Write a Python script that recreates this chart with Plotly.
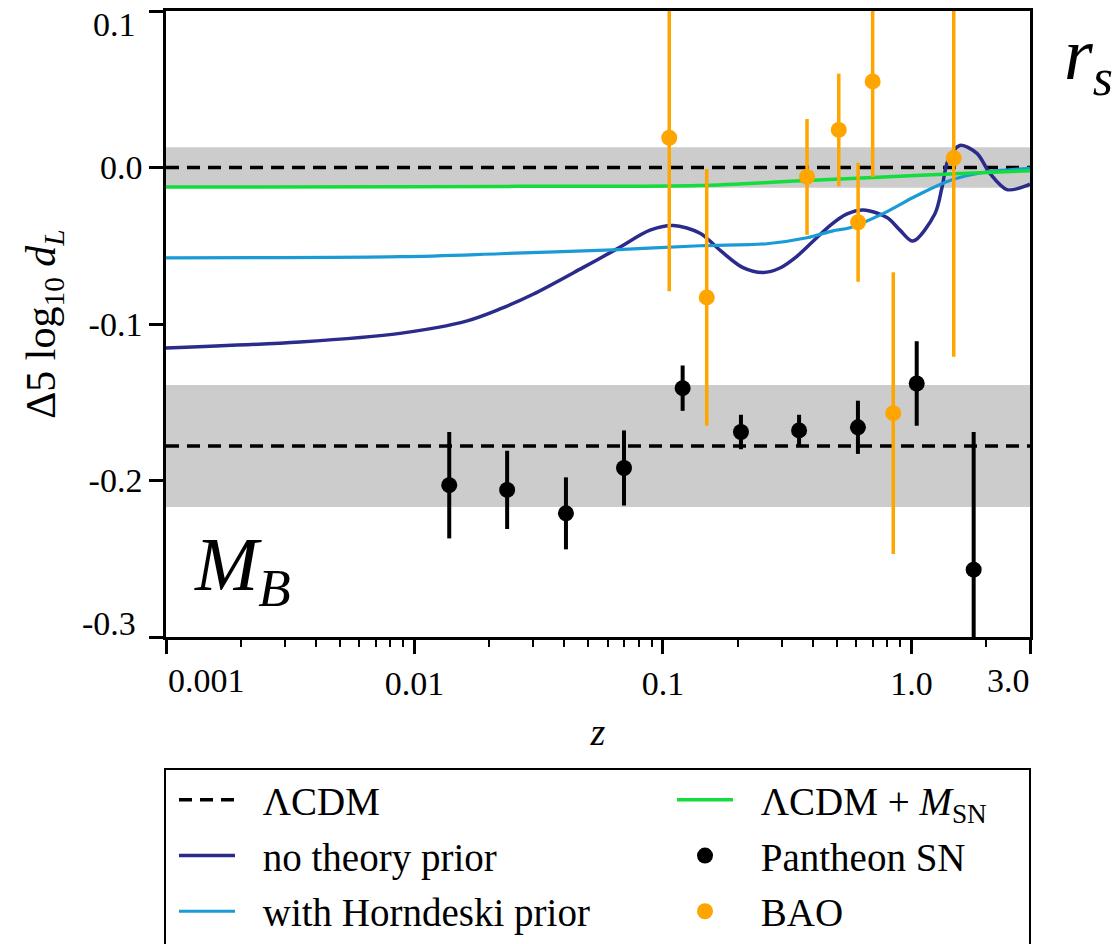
import plotly.graph_objects as go
import numpy as np

# ---------------- data ----------------
# no theory prior (navy)
nt_z = [0.001, 0.00346, 0.00874, 0.0163, 0.0221, 0.030, 0.0476, 0.0653, 0.0887, 0.110,
        0.141, 0.170, 0.210, 0.2532, 0.2957, 0.345, 0.4027, 0.47, 0.548, 0.64, 0.797, 0.899,
        1.014, 1.243, 1.327, 1.403, 1.567, 1.835, 2.07, 2.423, 2.916, 3.0]
nt_y = [-0.1154, -0.1115, -0.106, -0.098, -0.0904, -0.081, -0.064, -0.052, -0.040, -0.037,
        -0.042, -0.053, -0.064, -0.0671, -0.0642, -0.0569, -0.047, -0.0371, -0.0298, -0.0271,
        -0.032, -0.040, -0.047, -0.0295, -0.0128, 0.0045, 0.0141, 0.009, -0.0038, -0.0141,
        -0.0115, -0.0105]

# with Horndeski prior (light blue)
hp_z = [0.001, 0.00874, 0.0221, 0.0629, 0.141, 0.262, 0.38, 0.483, 0.5656, 0.768, 1.052,
        1.429, 1.94, 2.943, 3.0]
hp_y = [-0.0577, -0.057, -0.0551, -0.0526, -0.050, -0.0487, -0.0449, -0.0405, -0.0385,
        -0.0295, -0.0179, -0.0083, -0.0032, -0.0006, -0.0005]

# LCDM + M_SN (green)
gm_z = [0.001, 0.01, 0.03, 0.14, 0.38, 0.70, 1.5, 3.0]
gm_y = [-0.0125, -0.0123, -0.012, -0.0115, -0.0083, -0.0064, -0.004, -0.002]

# LCDM reference lines and bands
lcdm_z = [0.001, 3.0]
band_center = [0.0, -0.178]
band_half = [0.013, 0.039]

# Pantheon SN
sn_z = [0.0138, 0.0236, 0.0407, 0.0697, 0.120, 0.206, 0.353, 0.609, 1.05, 1.78]
sn_y = [-0.203, -0.206, -0.221, -0.192, -0.141, -0.169, -0.168, -0.166, -0.138, -0.257]
sn_e = [0.034, 0.025, 0.023, 0.024, 0.0145, 0.011, 0.010, 0.017, 0.027, 0.088]

# BAO
bao_z = [0.106, 0.15, 0.38, 0.51, 0.61, 0.698, 0.845, 1.48]
bao_y = [0.019, -0.083, -0.006, 0.024, -0.035, 0.055, -0.157, 0.006]
bao_e = [0.098, 0.082, 0.037, 0.036, 0.038, 0.061, 0.090, 0.127]

x_major = [0.001, 0.01, 0.1, 1.0, 3.0]
x_major_text = ["", "0.01", "0.1", "1.0", ""]
y_major = [0.1, 0.0, -0.1, -0.2, -0.3]
y_major_text = ["", "0.0", "-0.1", "-0.2", ""]

# ---------------- layout geometry ----------------
W, H = 1114, 944
L, R, T, B = 166, 1030, 11, 637
PW, PH = R - L, B - T


def px(xp):
    return (xp - L) / PW


def py(yp):
    return (B - yp) / PH


FONT = "Liberation Serif"
NAVY = "#2b2b8c"
LBLUE = "#1b9bd6"
GREEN = "#12dd3c"
ORANGE = "#ffa500"
GAP = "\u2002\u200a"

fig = go.Figure()

# bands
for c, h in zip(band_center, band_half):
    fig.add_shape(type="rect", xref="x domain", yref="y", x0=0, x1=1, y0=c - h, y1=c + h,
                  fillcolor="#cccccc", line_width=0, layer="below")

# LCDM dashed lines
for i, c in enumerate(band_center):
    fig.add_trace(go.Scatter(x=lcdm_z, y=[c, c], mode="lines",
                             line=dict(color="black", width=3.5, dash="13px,8px"),
                             name=GAP + "ΛCDM", showlegend=(i == 0), legend="legend",
                             legendgroup="a", hoverinfo="skip"))

fig.add_trace(go.Scatter(x=nt_z, y=nt_y, mode="lines",
                         line=dict(color=NAVY, width=3.5, shape="spline", smoothing=0.9),
                         name=GAP + "no theory prior", legend="legend", legendgroup="b"))
fig.add_trace(go.Scatter(x=hp_z, y=hp_y, mode="lines",
                         line=dict(color=LBLUE, width=3.2, shape="spline", smoothing=0.9),
                         name=GAP + "with Horndeski prior", legend="legend", legendgroup="c"))
fig.add_trace(go.Scatter(x=gm_z, y=gm_y, mode="lines",
                         line=dict(color=GREEN, width=3.5, shape="spline", smoothing=0.9),
                         name=GAP + "ΛCDM + <i>M</i><sub>SN</sub>", legend="legend2", legendgroup="d"))

fig.add_trace(go.Scatter(x=sn_z, y=sn_y, mode="markers",
                         marker=dict(color="black", size=16),
                         error_y=dict(type="data", array=sn_e, color="black", thickness=4, width=0),
                         name=GAP + "Pantheon SN", legend="legend2", legendgroup="e"))
fig.add_trace(go.Scatter(x=bao_z, y=bao_y, mode="markers",
                         marker=dict(color=ORANGE, size=16),
                         error_y=dict(type="data", array=bao_e, color=ORANGE, thickness=3.5, width=0),
                         name=GAP + "BAO", legend="legend2", legendgroup="f"))

minor_vals = [m * 10.0 ** d for d in (-3, -2, -1) for m in range(2, 10)] + [2.0]

TICKFONT = dict(family=FONT, size=34, color="black")
fig.update_xaxes(type="log", range=[np.log10(0.001), np.log10(3.0)],
                 tickvals=x_major, ticktext=x_major_text,
                 ticks="outside", ticklen=14, tickwidth=2.5, tickcolor="black",
                 minor=dict(tickvals=minor_vals, ticks="outside", ticklen=7, tickwidth=2, tickcolor="black"),
                 showline=True, linewidth=2.5, linecolor="black", mirror=True,
                 showgrid=False, zeroline=False,
                 tickfont=TICKFONT,
                 title=dict(text="<i>z</i>", font=dict(family=FONT, size=38, color="black"), standoff=18))
fig.update_yaxes(range=[-0.3, 0.1], tickvals=y_major, ticktext=y_major_text,
                 ticks="outside", ticklen=14, tickwidth=2.5, tickcolor="black",
                 showline=True, linewidth=2.5, linecolor="black", mirror=True,
                 showgrid=False, zeroline=False,
                 tickfont=TICKFONT,
                 title=dict(text="Δ5 log<sub>10</sub> <i>d</i><sub><i>L</i></sub>",
                            font=dict(family=FONT, size=42, color="black"), standoff=20))

annos = []
annos.append(dict(text="0.001", x=px(166), y=py(680), xref="paper", yref="paper",
                  xanchor="left", yanchor="middle", showarrow=False, font=TICKFONT))
annos.append(dict(text="3.0", x=px(1032), y=py(680), xref="paper", yref="paper",
                  xanchor="right", yanchor="middle", showarrow=False, font=TICKFONT))
annos.append(dict(text="0.1", x=px(138), y=py(25), xref="paper", yref="paper",
                  xanchor="right", yanchor="middle", showarrow=False, font=TICKFONT))
annos.append(dict(text="-0.3", x=px(138), y=py(623), xref="paper", yref="paper",
                  xanchor="right", yanchor="middle", showarrow=False, font=TICKFONT))
annos.append(dict(text="<i>M</i><sub><i>B</i></sub>", x=px(192), y=py(570), xref="paper", yref="paper",
                  xanchor="left", yanchor="middle", showarrow=False,
                  font=dict(family=FONT, size=76, color="black")))
annos.append(dict(text="<i>r</i><sub><i>s</i></sub>", x=px(1062), y=py(60), xref="paper", yref="paper",
                  xanchor="left", yanchor="middle", showarrow=False,
                  font=dict(family=FONT, size=74, color="black")))

# legend frame
fig.add_shape(type="rect", xref="paper", yref="paper", x0=px(165), x1=px(1030), y0=py(990), y1=py(769),
              line=dict(color="black", width=2), fillcolor="rgba(0,0,0,0)")

legfont = dict(family=FONT, size=39, color="black")
fig.update_layout(
    width=W, height=H,
    margin=dict(l=L, r=W - R, t=T, b=H - B, autoexpand=False),
    paper_bgcolor="white", plot_bgcolor="white",
    annotations=annos,
    legend=dict(x=px(174), y=py(768), xanchor="left", yanchor="top", font=legfont,
                itemwidth=56, bgcolor="rgba(0,0,0,0)", traceorder="grouped", tracegroupgap=2),
    legend2=dict(x=px(672), y=py(768), xanchor="left", yanchor="top", font=legfont,
                 itemwidth=56, bgcolor="rgba(0,0,0,0)", traceorder="grouped", tracegroupgap=2),
)

fig.write_html("out.html")
